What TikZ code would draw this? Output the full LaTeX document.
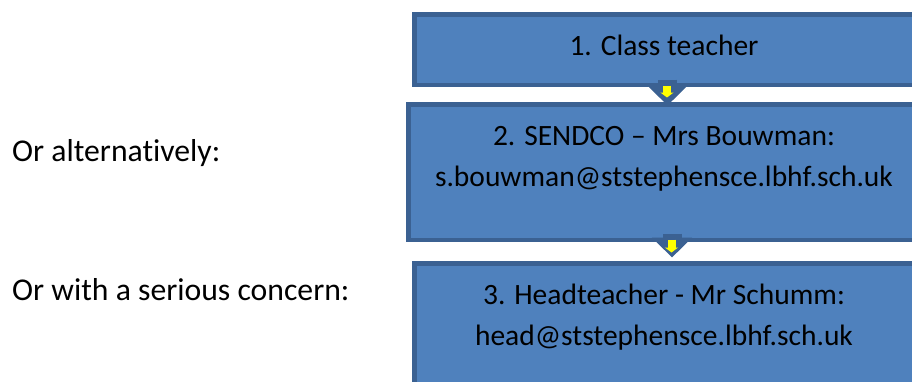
\documentclass[tikz,border=0pt]{standalone}
\usepackage{fontspec}
\setmainfont{Carlito}[Ligatures=CommonOff]
\usetikzlibrary{arrows.meta}
\definecolor{boxfill}{HTML}{4F81BD}
\definecolor{boxline}{HTML}{3B6192}
\definecolor{pointer}{HTML}{FFFF00}
\newcommand{\topgap}{\rule{0pt}{29pt}}
\tikzset{
  stage/.style={draw=boxline, fill=boxfill, line width=4.5pt, align=center,
    inner sep=0pt, minimum width=499.5pt, font=\fontsize{29.5}{41}\selectfont},
  side/.style={anchor=west, inner sep=0pt, font=\fontsize{31.7}{41}\selectfont},
  bigarrow/.style={boxline, line width=19pt, -{Triangle[length=20pt,width=39pt]}},
  smallarrow/.style={pointer, line width=8pt, -{Triangle[length=5pt,width=13pt]}},
}

\begin{document}
\begin{tikzpicture}[x=1pt,y=-1pt]
\useasboundingbox (0,0) rectangle (912,381);
\node[stage, minimum height=70.5pt, text depth=8pt] (teacher) at (664,49.5) {1. Class teacher};
\node[stage, minimum width=511.5pt, minimum height=135.5pt] (sendco) at (664,172)
  {\topgap 2. SENDCO -- Mrs Bouwman:\\ s.bouwman@ststephensce.lbhf.sch.uk\\ ~};
\node[stage, minimum height=135.5pt] (head) at (664,331)
  {\topgap 3. Headteacher - Mr Schumm:\\ head@ststephensce.lbhf.sch.uk\\ ~};
\node[side] (alt) at (12,153) {Or alternatively:};
\node[side] (concern) at (12,290) {Or with a serious concern:};
% block arrows between the stages
\draw[bigarrow] ([xshift=3.5pt,yshift=7.5pt]teacher.south) -- ([xshift=3.5pt,yshift=-3.5pt]sendco.north);
\draw[smallarrow] ([xshift=3pt,yshift=1.5pt]teacher.south) -- ([xshift=3pt,yshift=4.5pt]sendco.north);
\draw[bigarrow] ([xshift=8pt,yshift=8.5pt]sendco.south) -- ([xshift=8pt,yshift=3.5pt]head.north);
\draw[smallarrow] ([xshift=7.5pt,yshift=2.5pt]sendco.south) -- ([xshift=7.5pt,yshift=8.5pt]head.north);
\end{tikzpicture}
\end{document}
